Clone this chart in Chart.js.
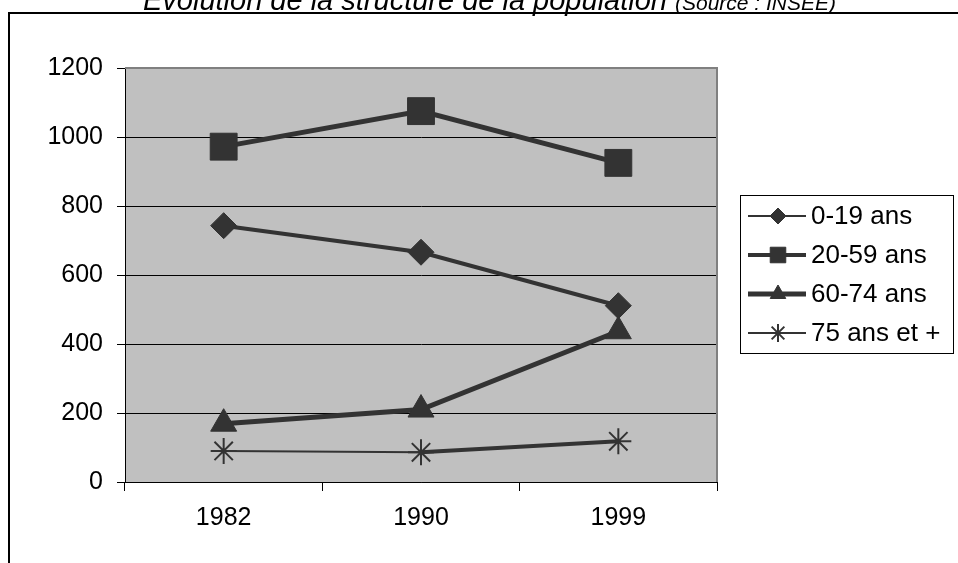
<!DOCTYPE html>
<html lang="fr">
<head>
<meta charset="utf-8">
<title>Évolution de la structure de la population</title>
<script src="https://cdn.jsdelivr.net/npm/chart.js@4/dist/chart.umd.min.js"></script>
<style>
  html, body { margin: 0; padding: 0; background: #fff; overflow: hidden; }
  #wrap { position: relative; width: 958px; height: 563px; }
  canvas { display: block; }
</style>
</head>
<body>
<div id="wrap"><canvas id="chart" width="958" height="563"></canvas></div>
<script>
  // Évolution de la structure de la population (source INSEE)
  const years = ["1982", "1990", "1999"];
  const ages0to19 = [743, 666, 511];
  const ages20to59 = [972, 1075, 925];
  const ages60to74 = [169, 210, 437];
  const ages75plus = [90, 86, 118];
  const seriesNames = ["0-19 ans", "20-59 ans", "60-74 ans", "75 ans et +"];
  const yTicks = [0, 200, 400, 600, 800, 1000, 1200];

  const INK = "#333333";
  const FONT = "'Liberation Sans', Arial, sans-serif";

  function series(label, data, style, radius, width, legendWidth, legendRadius) {
    return {
      label,
      data,
      borderColor: INK,
      backgroundColor: INK,
      borderWidth: width,
      pointStyle: style,
      pointRadius: radius,
      pointHoverRadius: radius,
      pointBorderWidth: style === "star" ? 2 : 1,
      pointBorderColor: INK,
      pointBackgroundColor: INK,
      tension: 0,
      legendWidth,
      legendRadius,
    };
  }

  const datasets = [
    series(seriesNames[0], ages0to19, "rectRot", 13, 4, 2, 8),
    series(seriesNames[1], ages20to59, "rect", 19, 5, 4, 11),
    series(seriesNames[2], ages60to74, "triangle", 15, 5, 5, 9),
    series(seriesNames[3], ages75plus, "star", 13, 2, 2, 9),
  ];
  // le dernier segment de la série 75 ans et + est plus épais sur l'original
  datasets[3].segment = { borderWidth: (ctx) => (ctx.p1DataIndex === 2 ? 4 : 2) };

  // fond gris de la zone de tracé + cadre de la page
  const plotArea = {
    id: "plotArea",
    beforeDraw(chart) {
      const { ctx, chartArea: a } = chart;
      ctx.save();
      ctx.fillStyle = "#c0c0c0";
      ctx.fillRect(a.left, a.top, a.right - a.left, a.bottom - a.top);
      ctx.fillStyle = "#000";
      ctx.fillRect(8, 12, chart.width - 8, 2);
      ctx.fillRect(8, 12, 2, chart.height - 12);
      ctx.restore();
    },
    beforeDatasetsDraw(chart) {
      const { ctx, chartArea: a } = chart;
      ctx.save();
      ctx.strokeStyle = "#808080";
      ctx.lineWidth = 2;
      ctx.beginPath();
      ctx.moveTo(a.left, a.top);
      ctx.lineTo(a.right, a.top);
      ctx.lineTo(a.right, a.bottom);
      ctx.stroke();
      ctx.restore();
    },
  };

  // titre en deux tailles + légende encadrée
  const decorations = {
    id: "decorations",
    afterDraw(chart) {
      const ctx = chart.ctx;
      ctx.save();
      ctx.fillStyle = "#000";
      ctx.textBaseline = "alphabetic";
      ctx.textAlign = "left";
      ctx.font = `italic 29px ${FONT}`;
      const main = "Évolution de la structure de la population";
      ctx.fillText(main, 143, 10);
      const w = ctx.measureText(main).width;
      ctx.font = `italic 21px ${FONT}`;
      ctx.fillText("(Source : INSEE)", 143 + w + 8, 10);

      // légende
      const box = { x: 740.5, y: 195.5, w: 213, h: 158 };
      ctx.fillStyle = "#fff";
      ctx.fillRect(box.x, box.y, box.w, box.h);
      ctx.strokeStyle = "#000";
      ctx.lineWidth = 1;
      ctx.strokeRect(box.x, box.y, box.w, box.h);
      ctx.font = `26px ${FONT}`;
      ctx.textBaseline = "middle";
      chart.data.datasets.forEach((ds, i) => {
        const y = 216 + i * 39;
        ctx.strokeStyle = INK;
        ctx.lineWidth = ds.legendWidth;
        ctx.beginPath();
        ctx.moveTo(748, y);
        ctx.lineTo(806, y);
        ctx.stroke();
        ctx.fillStyle = INK;
        ctx.lineWidth = ds.pointBorderWidth;
        Chart.helpers.drawPoint(ctx, { pointStyle: ds.pointStyle, radius: ds.legendRadius, rotation: 0, borderWidth: ds.pointBorderWidth }, 778, y);
        ctx.fillStyle = "#000";
        ctx.fillText(ds.label, 811, y + 1);
      });
      ctx.restore();
    },
  };

  new Chart(document.getElementById("chart"), {
    type: "line",
    data: { labels: years, datasets },
    options: {
      responsive: false,
      animation: false,
      devicePixelRatio: 1,
      layout: { padding: { top: 68, right: 241, left: 0, bottom: 0 } },
      plugins: { legend: { display: false }, tooltip: { enabled: false } },
      scales: {
        x: {
          type: "category",
          offset: true,
          grid: { offset: true, drawOnChartArea: false, drawTicks: true, tickLength: 9, color: "#000", lineWidth: 1 },
          border: { color: "#000", width: 1 },
          ticks: { color: "#000", font: { family: FONT, size: 25 }, padding: 12 },
          afterFit(scale) { scale.height = 81; },
        },
        y: {
          min: 0,
          max: 1200,
          afterBuildTicks(scale) { scale.ticks = yTicks.map((v) => ({ value: v })); },
          grid: { color: "#000", lineWidth: 1, tickLength: 8 },
          border: { color: "#000", width: 1 },
          ticks: { color: "#000", font: { family: FONT, size: 25 }, padding: 14, callback: (v) => String(v) },
          afterFit(scale) { scale.width = 125; },
        },
      },
    },
    plugins: [plotArea, decorations],
  });
</script>
</body>
</html>
